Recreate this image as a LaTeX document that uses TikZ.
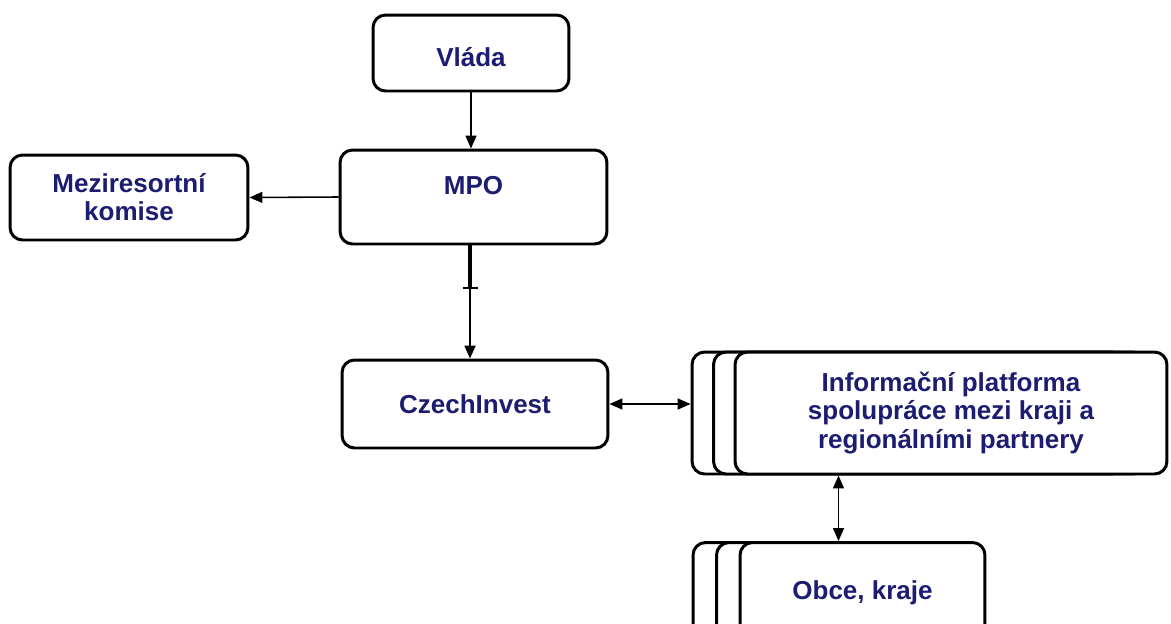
\documentclass[tikz,border=0pt]{standalone}
\usepackage{fontspec}
\setmainfont{Liberation Sans}
\usetikzlibrary{positioning,shadows,arrows.meta}
\definecolor{navytext}{RGB}{28,28,112}
\tikzset {
    style box/.style={
        draw=black,
        line width=1.7pt,
        fill=white,
        rectangle, % Set the shape as a rectangle
        rounded corners=.25cm,
        text=navytext,
        font=\bfseries\fontsize{14.8}{16}\selectfont,
        inner sep=0pt,
        align=center,
    },
    style stack/.style={
        style box,
        double copy shadow={shadow xshift=#1, shadow yshift=0cm,
            draw=black, line width=1.7pt, fill=white},
    },
    style link/.style={
        draw=black,
        line width=0.9pt,
        -{Triangle[length=.26cm,width=.22cm]},
    },
    style both/.style={
        style link,
        {Triangle[length=.26cm,width=.22cm]}-{Triangle[length=.26cm,width=.22cm]},
    },
}
\begin{document}
\begin{tikzpicture}[x=0.02cm, y=-0.02cm]
        \useasboundingbox (0,0) rectangle (1171,623);
        \clip (0,0) rectangle (1171,623);

        \node[style box, minimum width=3.92cm, minimum height=1.52cm,
            text height=0.55cm] (vlada) at (471,53) {Vláda};
        \node[style box, minimum width=5.34cm, minimum height=1.88cm,
            label={[label distance=-1.05cm, text=navytext, font=\bfseries\fontsize{14.8}{16}\selectfont]north:MPO}] (mpo) at (473.5,197) {};
        \node[style box, minimum width=4.76cm, minimum height=1.7cm] (meziresortni) at (129,197.5) {Meziresortní\\komise};
        \node[style box, minimum width=5.32cm, minimum height=1.76cm] (czechinvest) at (475,404) {CzechInvest};
        \node[style stack=-0.43cm, minimum width=8.64cm, minimum height=2.44cm] (platforma) at (951,413)
            {Informační platforma\\spolupráce mezi kraji a\\regionálními partnery};
        \node[style stack=-0.47cm, minimum width=4.9cm, minimum height=1.9cm,
            text height=0.5cm] (obce) at (862.5,590) {Obce, kraje};

        % connectors
        \draw[style link] (vlada.south) -- (vlada.south |- mpo.north);
        \draw[style link] (mpo.west) -- (meziresortni.east);

        \coordinate (mpo break) at (470,288);
        \draw[line width=2.2pt] (mpo.south -| mpo break) -- (mpo break);
        \draw[line width=0.9pt] ([xshift=-0.15cm]mpo break) -- ([xshift=0.15cm]mpo break);
        \draw[style link, line width=1.2pt] (mpo break) -- (mpo break |- czechinvest.north);

        \coordinate (platforma back) at ([xshift=-0.86cm]platforma.west);
        \draw[style both] (czechinvest.east) -- (czechinvest.east -| platforma back);
        \draw[style both] ([xshift=-0.48cm]obce.north |- platforma.south) -- ([xshift=-0.48cm]obce.north);

    \end{tikzpicture}
\end{document}
